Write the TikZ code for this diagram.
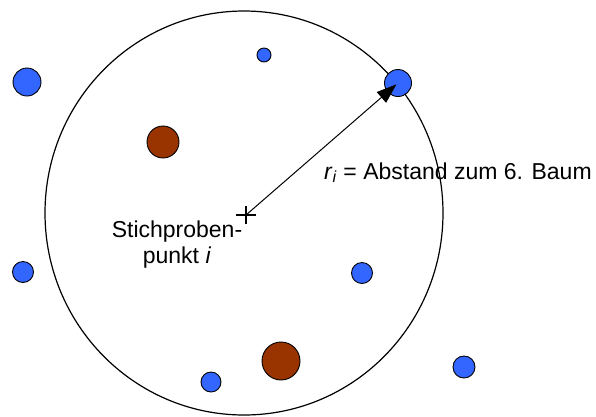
\documentclass[tikz,border=0pt]{standalone}
\usepackage{fontspec}
\setmainfont{Liberation Sans}
\usepackage{tikz}
\usetikzlibrary{arrows.meta,positioning}
\definecolor{treeblue}{HTML}{3366FF}
\definecolor{treebrown}{HTML}{993300}

\begin{document}
\begin{tikzpicture}[
  x=1pt,y=-1pt,
  every node/.style={font=\fontsize{23}{26}\selectfont,align=center},
  tree/.style={circle,draw,line width=0.9pt,inner sep=0pt},
  bluetree/.style={tree,fill=treeblue},
  browntree/.style={tree,fill=treebrown},
  arr/.style={-{Triangle[length=20pt,width=14pt]},line width=1pt}
]
\useasboundingbox (0,0) rectangle (596,416);
% sample circle
\coordinate (pt) at (246,215);
\draw[line width=1.2pt] (244,213) ellipse [x radius=199,y radius=202];
% trees
\node[bluetree,minimum size=28pt] (t1) at (27,82) {};
\node[bluetree,minimum size=14pt] (t2) at (264,55) {};
\node[browntree,minimum size=32pt] (t3) at (163,142) {};
\node[bluetree,minimum size=27pt] (t4) at (398,83) {};
\node[bluetree,minimum size=21pt] (t5) at (23,272) {};
\node[bluetree,minimum size=21pt] (t6) at (362,273) {};
\node[browntree,minimum size=38pt] (t7) at (281,361) {};
\node[bluetree,minimum size=20pt] (t8) at (211,382) {};
\node[bluetree,minimum size=22pt] (t9) at (464,367) {};
% sample point
\draw[line width=1.1pt] (pt) ++(-10,0) -- ++(20,0);
\draw[line width=1.1pt] (pt) ++(0,-9) -- ++(0,18);
\draw[arr,shorten >=2pt] (pt) -- (t4.center);
% labels
\node[inner sep=0pt] (point) at (177,245) {Stichproben-\\punkt \textit{i}};
\node[inner sep=0pt,anchor=base west] (dist) at (324,179)
  {\textit{r}\textsubscript{\textit{i}} = Abstand zum 6. Baum};
\end{tikzpicture}
\end{document}
